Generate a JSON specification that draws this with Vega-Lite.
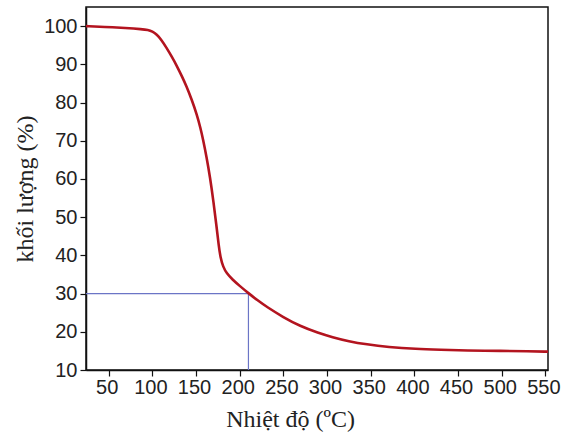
{
  "$schema": "https://vega.github.io/schema/vega-lite/v6.json",
  "autosize": {"type": "none"},
  "width": 462,
  "height": 363,
  "padding": {"left": 86, "top": 7, "right": 20, "bottom": 74},
  "background": "white",
  "config": {
    "view": {"stroke": "#111", "strokeWidth": 1.5},
    "axis": {
      "domain": true,
      "domainColor": "#111",
      "domainWidth": 1.5,
      "tickColor": "#111",
      "tickWidth": 1.2,
      "ticks": true,
      "grid": false,
      "labelFont": "Liberation Sans",
      "labelFontSize": 20,
      "labelColor": "#222",
      "titleFont": "Liberation Serif",
      "titleFontSize": 24,
      "titleFontWeight": "normal",
      "titleColor": "#222"
    }
  },
  "datasets": {
    "curve": [
      {"t": 24, "m": 100.0},
      {"t": 45, "m": 99.8},
      {"t": 70, "m": 99.5},
      {"t": 88, "m": 99.2},
      {"t": 95, "m": 99.0},
      {"t": 100, "m": 98.6},
      {"t": 105, "m": 97.8},
      {"t": 110, "m": 96.5},
      {"t": 116, "m": 94.4},
      {"t": 122, "m": 92.1},
      {"t": 128, "m": 89.6},
      {"t": 134, "m": 86.8},
      {"t": 139, "m": 84.3},
      {"t": 145, "m": 80.8},
      {"t": 151, "m": 76.8},
      {"t": 155, "m": 73.4},
      {"t": 158, "m": 70.4},
      {"t": 162, "m": 65.8},
      {"t": 166, "m": 60.5},
      {"t": 170, "m": 54.0},
      {"t": 173.5, "m": 47.5},
      {"t": 176, "m": 42.5},
      {"t": 178, "m": 39.4},
      {"t": 181, "m": 37.0},
      {"t": 185, "m": 35.3},
      {"t": 192, "m": 33.6},
      {"t": 200, "m": 32.0},
      {"t": 210, "m": 30.1},
      {"t": 220, "m": 28.3},
      {"t": 231, "m": 26.5},
      {"t": 250, "m": 23.8},
      {"t": 269, "m": 21.5},
      {"t": 290, "m": 19.7},
      {"t": 306, "m": 18.6},
      {"t": 325, "m": 17.5},
      {"t": 345, "m": 16.7},
      {"t": 370, "m": 16.0},
      {"t": 402, "m": 15.5},
      {"t": 430, "m": 15.3},
      {"t": 459, "m": 15.1},
      {"t": 500, "m": 15.0},
      {"t": 530, "m": 14.9},
      {"t": 553, "m": 14.8}
    ],
    "guides": [
      {"x1": 24, "x2": 210, "y1": 30, "y2": 30},
      {"x1": 210, "x2": 210, "y1": 10, "y2": 30}
    ]
  },
  "layer": [
    {
      "data": {"name": "guides"},
      "mark": {"type": "rule", "color": "#6b75c6", "strokeWidth": 1.2},
      "encoding": {
        "x": {"field": "x1", "type": "quantitative"},
        "x2": {"field": "x2"},
        "y": {"field": "y1", "type": "quantitative"},
        "y2": {"field": "y2"}
      }
    },
    {
      "data": {"name": "curve"},
      "mark": {"type": "line", "color": "#b3141f", "strokeWidth": 2.6, "interpolate": "basis"},
      "encoding": {
        "x": {
          "field": "t",
          "type": "quantitative",
          "scale": {"domain": [24, 553], "nice": false, "zero": false},
          "axis": {
            "title": "Nhiệt độ (ºC)",
            "values": [50, 75, 100, 125, 150, 175, 200, 225, 250, 275, 300, 325, 350, 375, 400, 425, 450, 475, 500, 525, 550],
            "labelExpr": "datum.value % 50 == 0 ? datum.label : ''",
            "tickSize": {"condition": {"test": "datum.value % 50 == 0", "value": 6}, "value": 3},
            "labelPadding": 1,
            "labelOffset": -2,
            "labelFlush": false,
            "labelOverlap": false,
            "titlePadding": 10,
            "titleX": 204
          }
        },
        "y": {
          "field": "m",
          "type": "quantitative",
          "scale": {"domain": [10, 105], "nice": false, "zero": false},
          "axis": {
            "title": "khối lượng (%)",
            "values": [10, 15, 20, 25, 30, 35, 40, 45, 50, 55, 60, 65, 70, 75, 80, 85, 90, 95, 100],
            "labelExpr": "datum.value % 10 == 0 ? datum.label : ''",
            "tickSize": {"condition": {"test": "datum.value % 10 == 0", "value": 6}, "value": 3},
            "labelPadding": 3,
            "labelFlush": false,
            "labelOverlap": false,
            "titlePadding": 6
          }
        }
      }
    }
  ]
}
